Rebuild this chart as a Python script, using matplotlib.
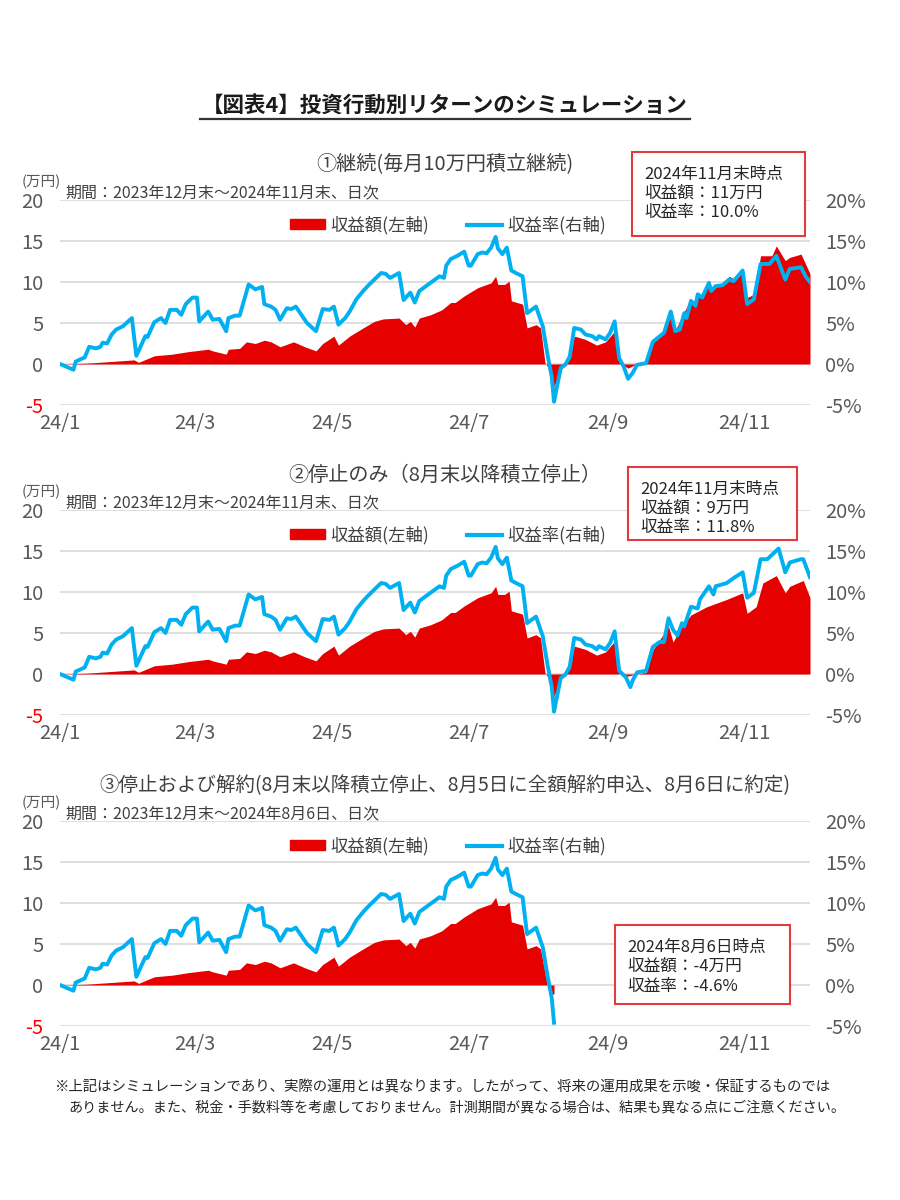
import numpy as np
import pandas as pd
import matplotlib
matplotlib.use('Agg')
import matplotlib.pyplot as plt
from matplotlib.patches import Rectangle, Patch
from matplotlib.lines import Line2D

plt.rcParams['font.family'] = ['Noto Sans CJK JP', 'DejaVu Sans']

# 収益率 (%), ① continuing case (daily values)
rate_dates = ['01-01','01-07','01-08','01-12','01-14','01-17','01-19','01-20','01-22','01-24','01-26','01-29',
              '02-02','02-04','02-08','02-09','02-12','02-15','02-17','02-19','02-22','02-24','02-26','02-29',
              '03-02','03-03','03-07','03-09','03-12','03-15','03-16','03-19','03-21','03-25','03-28','03-31',
              '04-01','04-04','04-06','04-08','04-11','04-13','04-15','04-17','04-20','04-22','04-24','04-27','04-30',
              '05-02','05-04','05-07','05-09','05-12','05-15','05-17','05-20','05-23','05-25','05-27','05-31',
              '06-02','06-05','06-07','06-09','06-11','06-13','06-16','06-18','06-20','06-21','06-23','06-26','06-29',
              '07-01','07-02','07-05','07-07','07-09','07-11','07-13','07-14','07-16','07-18','07-20','07-22','07-25',
              '07-27','07-29','07-31',
              '08-03','08-05','08-07','08-08','08-09','08-11','08-13','08-15','08-17','08-20','08-22','08-25','08-27',
              '08-28','08-31',
              '09-02','09-04','09-06','09-08','09-10','09-12','09-14','09-18','09-21','09-26','09-29',
              '10-01','10-03','10-05','10-06','10-08','10-10','10-11','10-13','10-16','10-17','10-19','10-22','10-25',
              '10-27','10-31',
              '11-02','11-05','11-08','11-12','11-15','11-19','11-21','11-26','11-28','11-30']
rate_vals = [0.0, -0.7, 0.3, 0.8, 2.1, 1.9, 2.1, 2.6, 2.5, 3.6, 4.2, 4.6,
             5.6, 1.0, 3.4, 3.3, 5.1, 5.6, 5.0, 6.6, 6.6, 6.0, 7.3, 8.1,
             8.1, 5.2, 6.4, 5.4, 5.5, 4.0, 5.6, 5.9, 5.9, 9.7, 9.1, 9.4,
             7.3, 7.0, 6.6, 5.4, 6.8, 6.7, 7.0, 6.2, 5.0, 4.5, 4.0, 6.7, 6.6,
             7.0, 4.8, 5.6, 6.4, 7.9, 8.9, 9.5, 10.3, 11.1, 11.0, 10.5, 11.1,
             7.8, 8.7, 7.5, 8.9, 9.3, 9.7, 10.3, 10.7, 10.5, 12.0, 12.8, 13.2, 13.7,
             12.0, 12.0, 13.4, 13.6, 13.5, 14.2, 15.5, 14.1, 13.4, 14.2, 11.4, 11.1, 10.7,
             6.2, 6.6, 7.0,
             4.6, 1.3, -1.6, -4.6, -3.2, -0.5, -0.1, 0.9, 4.4, 4.2, 3.6, 3.4, 3.0,
             3.4, 3.0,
             3.8, 5.2, 0.7, -0.3, -1.8, -1.1, -0.1, 0.1, 2.7, 3.8, 6.4,
             4.0, 4.2, 6.2, 5.6, 7.7, 7.1, 8.5, 8.1, 9.9, 8.9, 9.5, 9.6, 10.3,
             10.1, 11.4,
             7.3, 7.9, 12.2, 12.2, 13.2, 10.3, 11.6, 11.8, 10.7, 10.0]

# 収益額 (万円), ① continuing case
amt_dates = ['01-01','01-13',
             '02-03','02-05','02-12','02-20','02-27',
             '03-07','03-09','03-15','03-16','03-21','03-24','03-28',
             '04-01','04-04','04-08','04-14','04-19','04-24','04-27',
             '05-02','05-04','05-09','05-15','05-20','05-24','05-31',
             '06-03','06-05','06-07','06-09','06-14','06-19','06-23','06-25','06-29',
             '07-05','07-11','07-13','07-14','07-17','07-19','07-20','07-25','07-27','07-31',
             '08-02','08-04','08-07','08-08','08-09','08-11','08-13','08-15','08-17','08-22','08-27','08-31',
             '09-04','09-07','09-10','09-13','09-18','09-21','09-26','09-29',
             '10-01','10-05','10-08','10-10','10-11','10-13','10-16','10-17','10-19','10-22','10-25','10-27','10-31',
             '11-02','11-05','11-08','11-13','11-15','11-19','11-21','11-26','11-30']
amt_vals = [0.0, 0.1,
            0.5, 0.2, 1.0, 1.2, 1.5,
            1.8, 1.6, 1.2, 1.8, 1.9, 2.7, 2.5,
            2.9, 2.7, 2.1, 2.7, 2.1, 1.6, 2.5,
            3.4, 2.3, 3.4, 4.4, 5.2, 5.5, 5.6,
            4.8, 5.2, 4.5, 5.6, 6.0, 6.6, 7.5, 7.5, 8.3,
            9.3, 9.9, 10.7, 9.7, 9.7, 10.1, 7.7, 7.3, 4.4, 4.8,
            4.4, 0.1, -1.0, -2.8, -2.0, -0.3, 0.0, 0.6, 3.4, 3.0, 2.3, 2.7,
            4.0, 0.0, -0.5, -0.1, 0.0, 3.0, 3.8, 6.2,
            4.1, 6.4, 7.9, 7.3, 8.6, 8.3, 10.1, 9.1, 9.7, 9.8, 10.7, 10.4, 11.6,
            8.1, 8.5, 13.2, 13.2, 14.4, 12.6, 13.0, 13.4, 11.0]

# ② stop contributions after end of August (differs from ① after 09-04)
stop_rate_dates = ['09-06','09-09','09-11','09-12','09-14','09-18','09-21','09-24','09-26','09-28',
                   '09-30','10-02','10-04','10-05','10-08','10-11','10-12','10-16','10-18','10-19',
                   '10-24','10-27','10-31','11-02','11-05','11-08','11-11','11-16','11-19','11-21',
                   '11-26','11-27','11-30']
stop_rate_vals = [0.4, -0.4, -1.6, -0.8, 0.2, 0.4, 3.3, 3.9, 3.9, 6.8,
                  5.4, 4.7, 6.2, 5.8, 8.2, 8.0, 9.1, 10.7, 9.7, 10.7,
                  11.1, 11.7, 12.4, 9.3, 9.9, 14.0, 14.0, 15.3, 12.4, 13.6,
                  14.0, 14.0, 11.8]
stop_amt_dates = ['09-06','09-09','09-14','09-18','09-21','09-28','09-30','10-03','10-08','10-15',
                  '10-24','10-31','11-02','11-06','11-09','11-15','11-19','11-21','11-27','11-30']
stop_amt_vals = [0.0, -0.3, 0.0, 0.2, 2.9, 5.8, 3.9, 5.4, 7.2, 8.2,
                 9.1, 9.9, 7.4, 8.2, 11.1, 12.0, 9.9, 10.7, 11.4, 9.3]

# ③ full cancellation (ends in August)
cancel_amt_dates = ['08-05', '08-06', '08-08']
cancel_amt_vals = [0.0, -1.1, -1.1]

x_ticks = ['01-01', '03-01', '05-01', '07-01', '09-01', '11-01']
x_labels = ['24/1', '24/3', '24/5', '24/7', '24/9', '24/11']
y_ticks = [-5, 0, 5, 10, 15, 20]

RED = '#E60000'
BLUE = '#00B0F0'
GRAY = '#595959'
W, H = 900, 1200


def dt(lst):
    return pd.to_datetime(['2024-' + d for d in lst])


def fx(x):
    return x / W


def fy(y):
    return 1 - y / H


fig = plt.figure(figsize=(9, 12), dpi=100)


def draw_panel(top, r_d, r_v, a_d, a_v, subtitle, sub_size, period, box, box_lines):
    ax = fig.add_axes([fx(60), fy(top + 205), 750 / W, 205 / H])
    ax.fill_between(dt(a_d), a_v, 0, color=RED, lw=0, zorder=2)
    ax.set_ylim(-5, 20)
    ax.set_yticks(y_ticks)
    ax.set_yticklabels([str(v) for v in y_ticks])
    ax.set_xlim(pd.Timestamp('2024-01-01'), pd.Timestamp('2024-11-30'))
    ax.set_xticks(dt(x_ticks))
    ax.set_xticklabels(x_labels)
    ax.grid(axis='y', color='#D9D9D9', lw=1.2)
    ax.set_axisbelow(True)
    for s in ax.spines.values():
        s.set_visible(False)
    ax.tick_params(axis='y', length=0, labelsize=14.5, labelcolor=GRAY, pad=12)
    ax.tick_params(axis='x', length=0, labelsize=14.5, labelcolor=GRAY, pad=6)
    ax.get_yticklabels()[0].set_color('#FF0000')

    ax2 = ax.twinx()
    ax2.plot(dt(r_d), r_v, color=BLUE, lw=2.8, solid_joinstyle='round')
    ax2.set_ylim(-5, 20)
    ax2.set_yticks(y_ticks)
    ax2.set_yticklabels([f'{v}%' for v in y_ticks])
    ax2.tick_params(axis='y', length=0, labelsize=14.5, labelcolor=GRAY, pad=11)
    for s in ax2.spines.values():
        s.set_visible(False)

    fig.text(fx(445), fy(top - 35), subtitle, ha='center', va='center',
             fontsize=sub_size, color='#404040')
    fig.text(fx(22), fy(top - 18), '(万円)', ha='left', va='center',
             fontsize=10.5, color=GRAY)
    fig.text(fx(65), fy(top - 7), period, ha='left', va='center',
             fontsize=11.5, color='#404040')

    handles = [Patch(color=RED), Line2D([], [], color=BLUE, lw=3)]
    ax2.legend(handles, ['収益額(左軸)', '収益率(右軸)'], loc='center',
               bbox_to_anchor=(fx(448), fy(top + 25)), bbox_transform=fig.transFigure,
               ncol=2, frameon=False, fontsize=12.5, handlelength=2.0, handleheight=0.5,
               columnspacing=2.2, handletextpad=0.3, labelcolor='#404040')

    x0, y0, x1, y1 = box
    fig.patches.append(Rectangle((fx(x0), fy(y1)), (x1 - x0) / W, (y1 - y0) / H,
                                 transform=fig.transFigure, fill=True, facecolor='white',
                                 edgecolor='#E03C3C', lw=1.5, zorder=5))
    for i, line in enumerate(box_lines):
        fig.text(fx(x0 + 12), fy(y0 + 22 + 19.5 * i), line, ha='left', va='center',
                 fontsize=12, color='#262626', zorder=6)
    return ax


# panel ①
draw_panel(200, rate_dates, rate_vals, amt_dates, amt_vals,
           '①継続(毎月10万円積立継続)', 14.5, '期間：2023年12月末～2024年11月末、日次',
           (632, 152, 805, 236), ['2024年11月末時点', '収益額：11万円', '収益率：10.0%'])

# panel ②
n_rate = rate_dates.index('09-04') + 1
n_amt = amt_dates.index('09-04') + 1
draw_panel(510, rate_dates[:n_rate] + stop_rate_dates, rate_vals[:n_rate] + stop_rate_vals,
           amt_dates[:n_amt] + stop_amt_dates, amt_vals[:n_amt] + stop_amt_vals,
           '②停止のみ（8月末以降積立停止）', 14.5, '期間：2023年12月末～2024年11月末、日次',
           (628, 467, 797, 540), ['2024年11月末時点', '収益額：9万円', '収益率：11.8%'])

# panel ③
n_rate3 = rate_dates.index('08-08') + 1
n_amt3 = amt_dates.index('08-02') + 1
draw_panel(821, rate_dates[:n_rate3], rate_vals[:n_rate3],
           amt_dates[:n_amt3] + cancel_amt_dates, amt_vals[:n_amt3] + cancel_amt_vals,
           '③停止および解約(8月末以降積立停止、8月5日に全額解約申込、8月6日に約定)', 14,
           '期間：2023年12月末～2024年8月6日、日次',
           (615, 925, 790, 1004), ['2024年8月6日時点', '収益額：-4万円', '収益率：-4.6%'])

# title with underline
fig.text(fx(445), fy(105), '【図表4】投資行動別リターンのシミュレーション', ha='center', va='center',
         fontsize=15.5, fontweight='bold', color='#1a1a1a')
fig.add_artist(Line2D([fx(200), fx(690)], [fy(119), fy(119)], transform=fig.transFigure,
                      color='#333333', lw=1.6))

fig.text(fx(54), fy(1087), '※上記はシミュレーションであり、実際の運用とは異なります。したがって、将来の運用成果を示唆・保証するものでは',
         ha='left', va='center', fontsize=10.4, color='#262626')
fig.text(fx(68), fy(1107), 'ありません。また、税金・手数料等を考慮しておりません。計測期間が異なる場合は、結果も異なる点にご注意ください。',
         ha='left', va='center', fontsize=10.2, color='#262626')

fig.savefig('out.png', dpi=100, facecolor='white')
